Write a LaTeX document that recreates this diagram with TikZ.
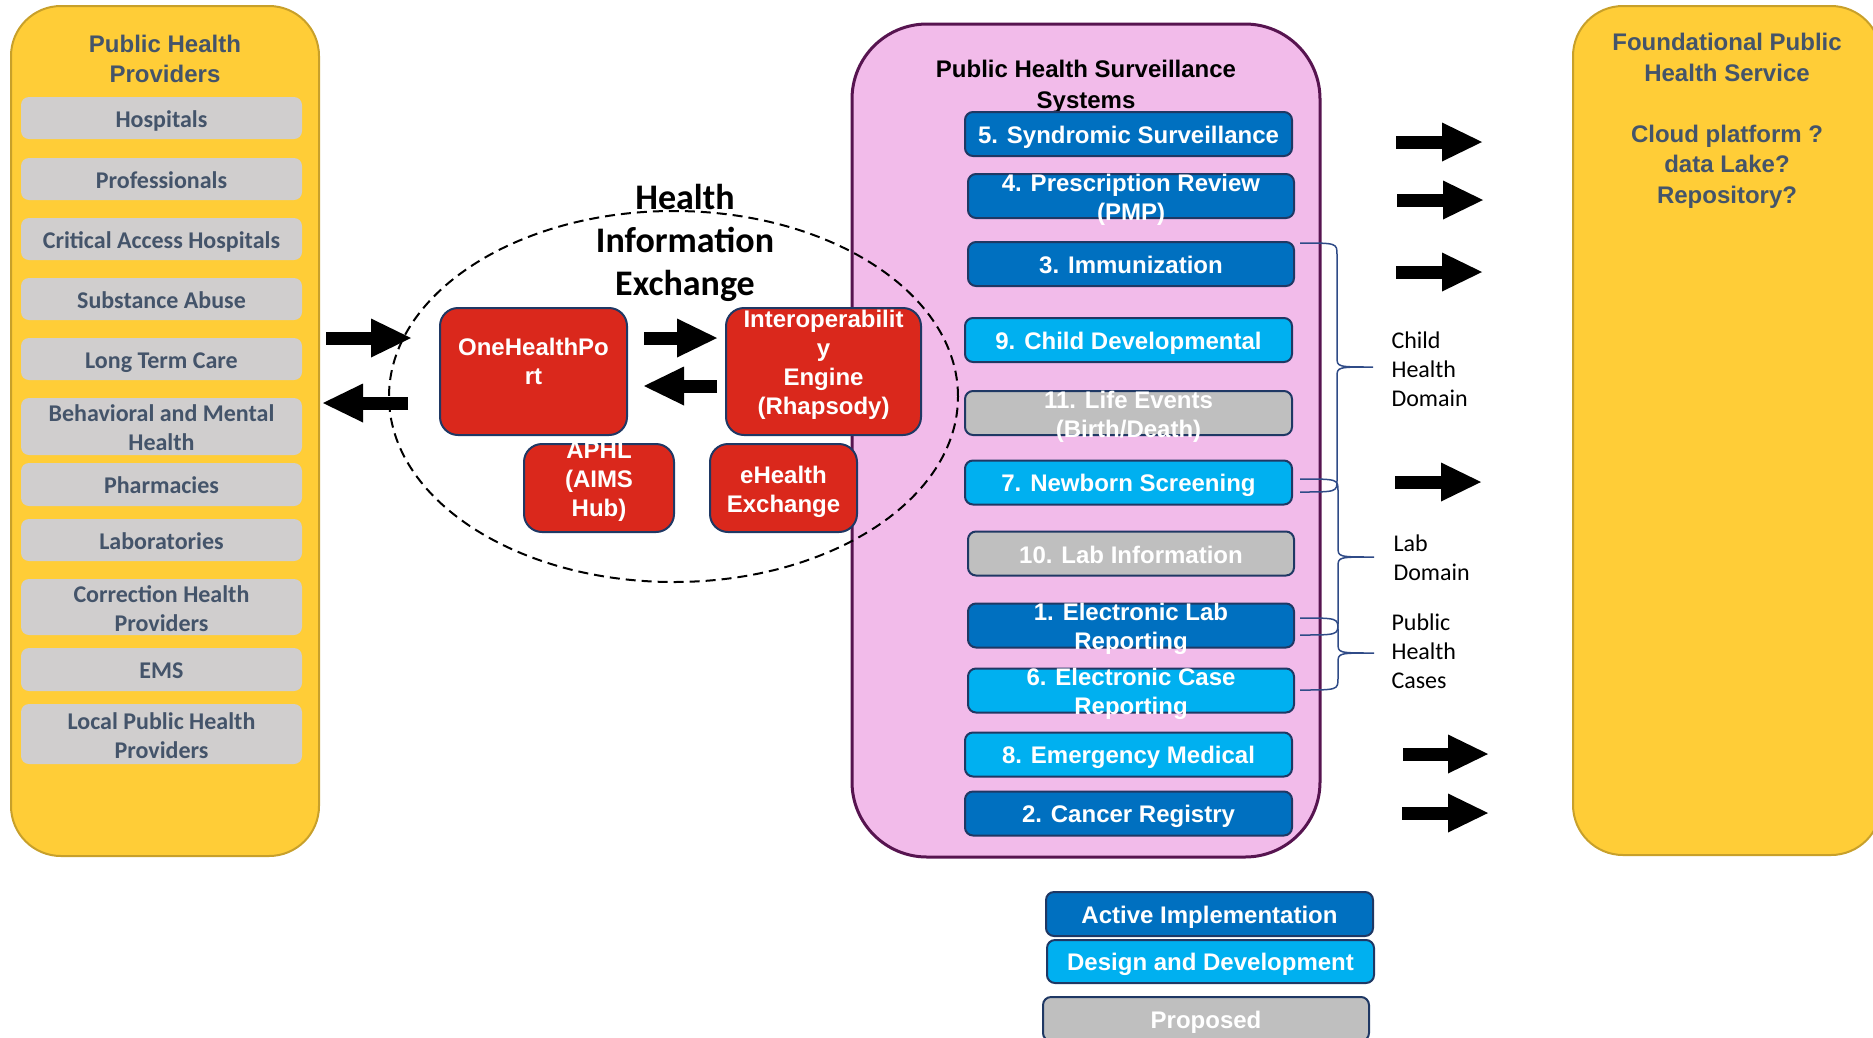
\documentclass[tikz,border=0pt]{standalone}
\usepackage{fontspec}
\setmainfont{Liberation Sans}
\newfontfamily\calibri{Carlito}
\usetikzlibrary{arrows.meta,shapes.geometric}

\definecolor{panelyellow}{HTML}{FFCD37}
\definecolor{paneledge}{HTML}{C8A02A}
\definecolor{slate}{HTML}{44546A}
\definecolor{providergrey}{HTML}{D0CECE}
\definecolor{survpink}{HTML}{F2BBEA}
\definecolor{survedge}{HTML}{571450}
\definecolor{hiered}{HTML}{DA281C}
\definecolor{boxedge}{HTML}{1F3864}
\definecolor{activeblue}{HTML}{0070C0}
\definecolor{designblue}{HTML}{00B0F0}
\definecolor{proposedgrey}{HTML}{BFBFBF}
\definecolor{bracecol}{HTML}{2F4B87}

\tikzset{
  panel/.style={draw=paneledge, line width=2pt, fill=panelyellow, rounded corners=50pt},
  provider/.style={fill=providergrey, rounded corners=8pt, minimum width=281pt, inner sep=0pt,
    text=slate, align=center, font=\calibri\bfseries\fontsize{24}{29}\selectfont,
    execute at begin node={\rule[-5pt]{0pt}{28pt}}},
  providertext/.style={text=slate, align=center, font=\calibri\bfseries\fontsize{24}{29}\selectfont},
  system/.style={draw=boxedge, line width=2pt, rounded corners=8pt, minimum height=44pt, inner sep=0pt,
    text=white, align=center, font=\bfseries\fontsize{24}{29}\selectfont,
    execute at begin node={\rule[-5pt]{0pt}{29pt}}},
  activebox/.style={system, fill=activeblue},
  designbox/.style={system, fill=designblue},
  proposedbox/.style={system, fill=proposedgrey},
  systemtext/.style={text=white, align=center, font=\bfseries\fontsize{24}{29}\selectfont},
  hiebox/.style={draw=boxedge, line width=2pt, fill=hiered, rounded corners=18pt, inner sep=0pt},
  hietext/.style={text=white, align=center, font=\bfseries\fontsize{24}{29}\selectfont},
  hieoval/.style={ellipse, draw, line width=2pt, dash pattern=on 10pt off 6pt, inner sep=0pt},
  brace/.style={draw=bracecol, line width=1.5pt},
  domainlabel/.style={anchor=west, align=left, font=\calibri\fontsize{24}{29}\selectfont},
  fatarrow/.style={line width=13pt, -{Triangle[length=40pt, width=39pt, line width=0pt]}},
}

\begin{document}
\begin{tikzpicture}[x=1pt, y=-1pt]
  \useasboundingbox (0,0) rectangle (1873,1037);
  \clip (0,0) rectangle (1873,1037);

  % providers column
  \draw[panel] (11,6) rectangle (319,856);
  \node[text=slate, align=center, font=\bfseries\fontsize{24}{30}\selectfont] (provtitle) at (165,59)
    {Public Health\\Providers};
  \node[provider, minimum height=42pt] (hosp) at (161.5,118) {Hospitals};
  \node[provider, minimum height=42pt] (prof) at (161.5,179) {Professionals};
  \node[provider, minimum height=42pt] (cah) at (161.5,239) {Critical Access Hospitals};
  \node[provider, minimum height=42pt] (subst) at (161.5,299) {Substance Abuse};
  \node[provider, minimum height=42pt] (ltc) at (161.5,359) {Long Term Care};
  \node[provider, minimum height=57pt] (behav) at (161.5,426.5) {};
  \node[provider, minimum height=43pt] (pharm) at (161.5,484.5) {Pharmacies};
  \node[provider, minimum height=42pt] (labs) at (161.5,540) {Laboratories};
  \node[provider, minimum height=56pt] (corr) at (161.5,607) {};
  \node[provider, minimum height=43pt] (ems) at (161.5,669.5) {EMS};
  \node[provider, minimum height=60pt] (lphp) at (161.5,734) {};
  \node[providertext] at ([yshift=-1.5pt]behav.center) {Behavioral and Mental\\Health};
  \node[providertext] at ([yshift=-1.5pt]corr.center) {Correction Health\\Providers};
  \node[providertext] at ([yshift=-1.5pt]lphp.center) {Local Public Health\\Providers};

  % surveillance systems column
  \draw[draw=survedge, line width=3pt, fill=survpink, rounded corners=75pt] (852,24) rectangle (1320,857);
  \node[align=center, font=\bfseries\fontsize{24}{31}\selectfont] (survtitle) at (1086,86.5)
    {Public Health Surveillance\\Systems};

  % health information exchange
  \node[hieoval, minimum width=569pt, minimum height=371pt] (hie) at (673.5,396.5) {};
  \node[align=center, font=\calibri\bfseries\fontsize{36}{43}\selectfont] (hietitle) at (685,242.5)
    {Health\\Information\\Exchange};
  \node[hiebox, minimum width=187pt, minimum height=127pt] (ohp) at (533.5,371.5) {};
  \node[hiebox, minimum width=195pt, minimum height=127pt] (rhap) at (823.5,371.5) {};
  \node[hiebox, minimum width=150pt, minimum height=88pt] (aphl) at (599,488) {};
  \node[hiebox, minimum width=147pt, minimum height=88pt] (ehx) at (783.5,488) {};
  \node[hietext] at ([yshift=10pt]ohp.center) {OneHealthPo\\rt};
  \node[hietext] at ([yshift=7pt]rhap.center) {Interoperabilit\\y\\Engine\\(Rhapsody)};
  \node[hietext] at ([yshift=6pt]aphl.center) {APHL\\(AIMS\\Hub)};
  \node[hietext] at ([yshift=-4pt]ehx.center) {eHealth\\Exchange};

  \node[activebox, minimum width=327pt] (syndromic) at (1128.5,134) {5. Syndromic Surveillance};
  \node[activebox, minimum width=326pt] (pmp) at (1131,196) {};
  \node[activebox, minimum width=326pt] (immun) at (1131,264) {3. Immunization};
  \node[designbox, minimum width=327pt] (childdev) at (1128.5,340) {9. Child Developmental};
  \node[proposedbox, minimum width=327pt] (lifeev) at (1128.5,413) {};
  \node[designbox, minimum width=327pt] (newborn) at (1128.5,482.5) {7. Newborn Screening};
  \node[proposedbox, minimum width=326pt] (labinfo) at (1131,553.5) {10. Lab Information};
  \node[activebox, minimum width=326pt] (elr) at (1131,625.5) {};
  \node[designbox, minimum width=326pt] (ecr) at (1131,690.5) {};
  \node[designbox, minimum width=327pt] (emerg) at (1128.5,754.5) {8. Emergency Medical};
  \node[activebox, minimum width=327pt] (cancer) at (1128.5,813.5) {2. Cancer Registry};
  \node[systemtext] at ([yshift=-3.5pt]pmp.center) {4. Prescription Review\\(PMP)};
  \node[systemtext] at ([yshift=-3.5pt]lifeev.center) {11. Life Events\\(Birth/Death)};
  \node[systemtext] at ([yshift=-3pt]elr.center) {1. Electronic Lab\\Reporting};
  \node[systemtext] at ([yshift=-3pt]ecr.center) {6. Electronic Case\\Reporting};

  % domain braces
  \draw[brace] (1300,243) .. controls (1337,243) .. (1337,255) -- (1337,357)
    .. controls (1337,367) .. (1373,367) .. controls (1337,367) .. (1337,377)
    -- (1337,480) .. controls (1337,492) .. (1300,492);
  \draw[brace] (1300,479) .. controls (1338,479) .. (1338,491) -- (1338,547)
    .. controls (1338,557) .. (1374,557) .. controls (1338,557) .. (1338,567)
    -- (1338,623) .. controls (1338,635) .. (1300,635);
  \draw[brace] (1300,618) .. controls (1338,618) .. (1338,630) -- (1338,643)
    .. controls (1338,653) .. (1374,653) .. controls (1338,653) .. (1338,663)
    -- (1338,678) .. controls (1338,690) .. (1300,690);
  \node[domainlabel] (childlbl) at (1388,369) {Child\\Health\\Domain};
  \node[domainlabel] (lablbl) at (1390,558) {Lab\\Domain};
  \node[domainlabel] (caselbl) at (1388,651) {Public\\Health\\Cases};

  % foundational service column
  \draw[panel] (1573,6) rectangle (1881,855);
  \node[text=slate, align=center, font=\bfseries\fontsize{24}{30.5}\selectfont] (fphs) at (1727,121)
    {Foundational Public\\Health Service\\[30.5pt]Cloud platform ?\\data Lake?\\Repository?};

  % data flow arrows
  \coordinate (pin1) at (326,338);
  \coordinate (pin2) at (411,338);
  \coordinate (pout1) at (408,403);
  \coordinate (pout2) at (323,403);
  \draw[fatarrow] (pin1) -- (pin2);
  \draw[fatarrow] (pout1) -- (pout2);
  \draw[fatarrow, shorten <=16pt, shorten >=8pt] ([yshift=33.5pt]ohp.east) -- ([yshift=33.5pt]rhap.west);
  \draw[fatarrow, shorten <=8pt, shorten >=16pt] ([yshift=-14.5pt]rhap.west) -- ([yshift=-14.5pt]ohp.east);
  \coordinate (f1a) at (1396,142);
  \coordinate (f1b) at (1482,142);
  \coordinate (f2a) at (1397,200);
  \coordinate (f2b) at (1483,200);
  \coordinate (f3a) at (1396,272);
  \coordinate (f3b) at (1482,272);
  \coordinate (f4a) at (1395,482);
  \coordinate (f4b) at (1481,482);
  \coordinate (f5a) at (1403,754);
  \coordinate (f5b) at (1488,754);
  \coordinate (f6a) at (1402,813);
  \coordinate (f6b) at (1488,813);
  \draw[fatarrow] (f1a) -- (f1b);
  \draw[fatarrow] (f2a) -- (f2b);
  \draw[fatarrow] (f3a) -- (f3b);
  \draw[fatarrow] (f4a) -- (f4b);
  \draw[fatarrow] (f5a) -- (f5b);
  \draw[fatarrow] (f6a) -- (f6b);

  % legend
  \node[activebox, minimum width=327pt] (active) at (1209.5,914) {Active Implementation};
  \node[designbox, minimum width=327pt, minimum height=43pt] (design) at (1210.5,961.5) {Design and Development};
  \node[proposedbox, minimum width=326pt] (proposed) at (1206,1019) {Proposed};
\end{tikzpicture}
\end{document}
